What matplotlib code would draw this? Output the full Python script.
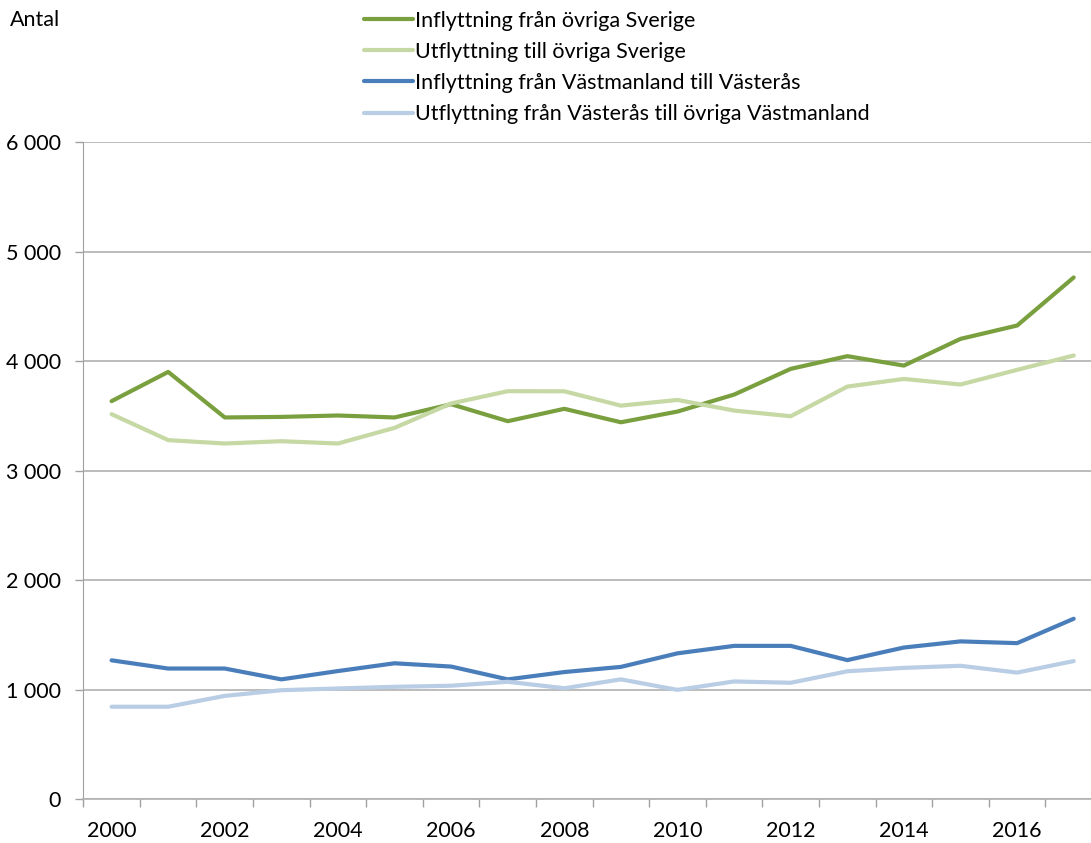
import matplotlib
matplotlib.use("Agg")
import matplotlib.pyplot as plt
import numpy as np

years = list(range(2000, 2018))

infl_sverige = [3635, 3902, 3486, 3491, 3504, 3486, 3607, 3452, 3565,
                3442, 3540, 3695, 3930, 4046, 3960, 4204, 4326, 4765]
utfl_sverige = [3516, 3279, 3248, 3269, 3248, 3391, 3614, 3726, 3725,
                3594, 3646, 3549, 3497, 3768, 3838, 3787, 3921, 4052]
infl_vastm = [1267, 1192, 1192, 1093, 1169, 1240, 1210, 1093, 1160,
              1207, 1331, 1399, 1399, 1269, 1384, 1440, 1424, 1647]
utfl_vasteras = [843, 843, 942, 994, 1010, 1025, 1035, 1071, 1012,
                 1093, 997, 1074, 1062, 1167, 1198, 1217, 1155, 1260]

labels = ["Inflyttning från övriga Sverige",
          "Utflyttning till övriga Sverige",
          "Inflyttning från Västmanland till Västerås",
          "Utflyttning från Västerås till övriga Västmanland"]
colors = ["#7a9f3f", "#c6d8a4", "#4a7ebb", "#b9cde5"]

yticks = [0, 1000, 2000, 3000, 4000, 5000, 6000]
ytick_labels = ["0", "1 000", "2 000", "3 000", "4 000", "5 000", "6 000"]

plt.rcParams['font.family'] = ['Lato', 'DejaVu Sans']
fs = 15.5

fig = plt.figure(figsize=(10.91, 8.43), dpi=100)
ax = fig.add_axes([83.3 / 1091, 1 - 799 / 843, (1102 - 83.3) / 1091, (799 - 142.3) / 843])

x = np.arange(len(years))
for series, lab, col in zip([infl_sverige, utfl_sverige, infl_vastm, utfl_vasteras], labels, colors):
    ax.plot(x, series, color=col, lw=3, label=lab, solid_capstyle='round')

ax.set_xlim(-0.5, len(years) - 0.5)
ax.set_ylim(0, 6000)
ax.set_yticks(yticks)
ax.set_yticklabels(ytick_labels)
ax.yaxis.grid(True, color="#b0b0b0", lw=1.2)
ax.set_axisbelow(True)

# category ticks between years, labels on every other year
ax.set_xticks(np.arange(-0.5, len(years), 1.0))
ax.set_xticklabels([])
ax.set_xticks(x[::2], minor=True)
ax.set_xticklabels([str(y) for y in years[::2]], minor=True)
ax.tick_params(axis='x', which='major', length=6, color="#a0a0a0", width=1)
ax.tick_params(axis='x', which='minor', length=0, pad=16, labelsize=fs)
ax.tick_params(axis='y', length=6, color="#a0a0a0", width=1, pad=10, labelsize=fs)

for s in ['top', 'right']:
    ax.spines[s].set_visible(False)
ax.spines['left'].set_color("#a0a0a0")
ax.spines['bottom'].set_color("#b0b0b0")
ax.spines['bottom'].set_linewidth(1.2)

fig.text(10 / 1091, 1 - 20 / 843, "Antal", fontsize=fs, va='center', ha='left')

fig.legend(loc='upper left', bbox_to_anchor=(355 / 1091, 1 - 2 / 843), frameon=False,
           fontsize=fs, handlelength=2.3, handletextpad=0.1, labelspacing=0.52,
           borderaxespad=0)

fig.savefig("out.png", dpi=100)
